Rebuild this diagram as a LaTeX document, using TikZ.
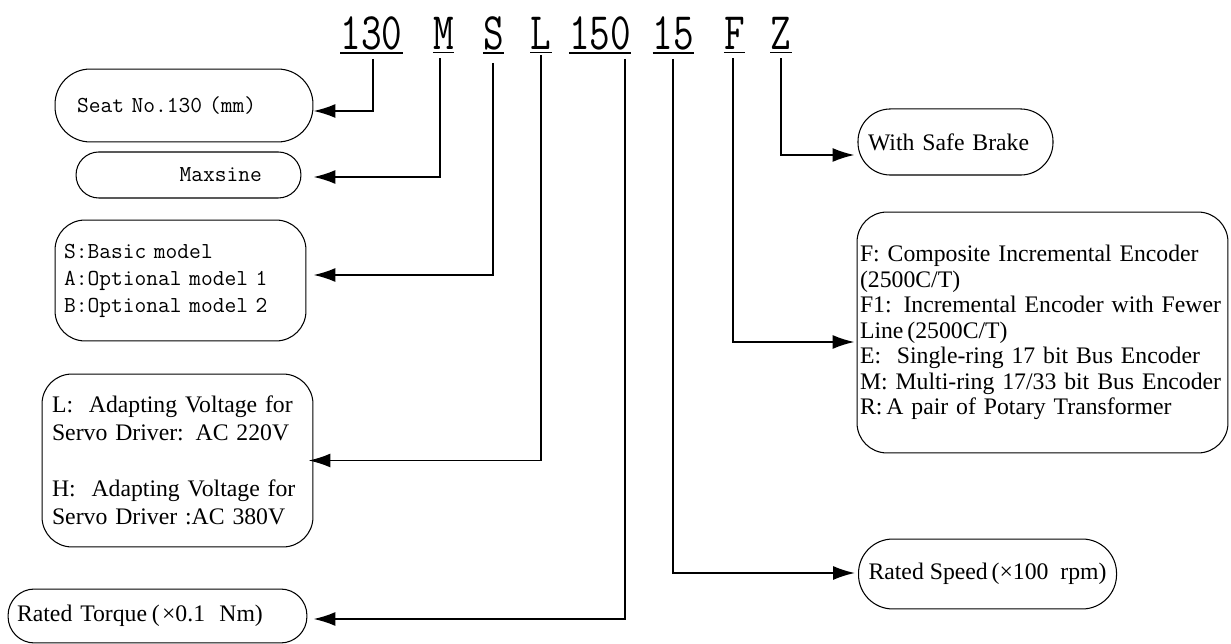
\documentclass[tikz,border=0pt]{standalone}
\usepackage{fontspec}
\usetikzlibrary{arrows.meta,calc}
\newfontfamily\tnr{Liberation Serif}

\begin{document}
\begin{tikzpicture}[x=0.02cm,y=-0.02cm,>={Latex[length=12.5pt,width=8pt]},
  codechar/.style={font=\fontsize{30}{30}\selectfont\ttfamily,inner sep=0pt,anchor=base,xscale=0.76},
  uline/.style={line width=0.9pt},
  conn/.style={->,line width=1.1pt},
  tagbox/.style={draw,line width=0.6pt,inner ysep=0pt,align=left},
  monotext/.style={font=\fontsize{13}{15.4}\selectfont\ttfamily},
  romantext/.style={font=\fontsize{13.5}{14.5}\selectfont\tnr}]
\useasboundingbox (0,0) rectangle (1231,644);

\node[codechar] (c130) at (371.5,50) {130};
\node[codechar] (cM) at (443.5,50) {M};
\node[codechar] (cS) at (493.5,50) {S};
\node[codechar] (cL) at (541,50) {L};
\node[codechar] (c150) at (600,50) {150};
\node[codechar] (c15) at (673.5,50) {15};
\node[codechar] (cF) at (734.5,50) {F};
\node[codechar] (cZ) at (781,50) {Z};
\foreach \c in {c130,cM,cS,cL,c150,c15,cF,cZ}
  \draw[uline] ($(\c.south west)+(0,2)$) -- ($(\c.south east)+(0,2)$);

\node[tagbox,monotext,rounded corners=20pt,text width=121.8pt,inner xsep=12.5pt,minimum height=41.5pt] (seat) at (184,105.5) {Seat No.130\hspace{0.3em}(mm)};
\node[tagbox,monotext,rounded corners=13pt,text width=83.6pt,inner xsep=22.2pt,minimum height=26.2pt,align=right] (maxsine) at (188.5,175) {Maxsine};
\node[tagbox,monotext,rounded corners=17pt,text width=132.6pt,inner xsep=5.1pt,minimum height=68.8pt] (basic) at (180.5,280.5) {S:Basic model\\A:Optional model 1\\B:Optional model 2};
\node[tagbox,font=\fontsize{13.5}{15.9}\selectfont\tnr,rounded corners=17pt,text width=142.8pt,inner xsep=5.7pt,minimum height=98.4pt] (volt) at (177.5,460.5) {L:\ \ Adapting Voltage for\\Servo Driver: AC 220V\\[15.9pt]H:\ \ Adapting Voltage for\\Servo Driver :AC 380V};
\node[tagbox,romantext,rounded corners=15pt,text width=159.9pt,inner xsep=5.1pt,minimum height=30.7pt] (torque) at (157.5,616) {Rated Torque\hspace{0.2em}(\hspace{0.1em}×0.1\hspace{0.6em}Nm)};

\node[tagbox,romantext,rounded corners=18.5pt,text width=99.6pt,inner xsep=5.7pt,minimum height=37.6pt] (brake) at (955.5,142) {With Safe Brake};
\node[tagbox,romantext,rounded corners=17pt,text width=207.7pt,inner xsep=1.7pt,minimum height=137.1pt] (enc) at (1042.5,332.5) {F: Composite Incremental Encoder\\(2500C/T)\\F1: Incremental Encoder with Fewer\\Line\,(2500C/T)\\E:\ \ Single-ring 17 bit Bus Encoder\\M: Multi-ring 17/33 bit Bus Encoder\\R:\,A pair of Potary Transformer};
\node[tagbox,romantext,rounded corners=19.5pt,inner xsep=5.7pt,minimum height=39.8pt,anchor=west] (speed) at (858,574) {Rated Speed\,(×100\ \ rpm)};

\draw[conn] ($(c130.south)+(1.5,8)$) |- ($(seat.east)+(0,5.5)$);
\draw[conn] ($(cM.south)+(-3.5,8)$) |- ($(maxsine.east)+(12,2)$);
\draw[conn] ($(cS.south)+(-0.5,12)$) |- ($(basic.east)+(7,-5.5)$);
\draw[conn] ($(cL.south)+(0,5)$) |- ($(volt.east)+(-5,0)$);
\draw[conn] ($(c150.south)+(25,8)$) |- ($(torque.east)+(6,3)$);
\draw[conn] ($(c15.south)+(-0.5,8)$) |- ($(speed.west)+(-3,-1)$);
\draw[conn] ($(cF.south)+(-1.5,8)$) |- ($(enc.west)+(-2,9.5)$);
\draw[conn] ($(cZ.south)+(0,8)$) |- ($(brake.west)+(-3,13)$);
\end{tikzpicture}
\end{document}
